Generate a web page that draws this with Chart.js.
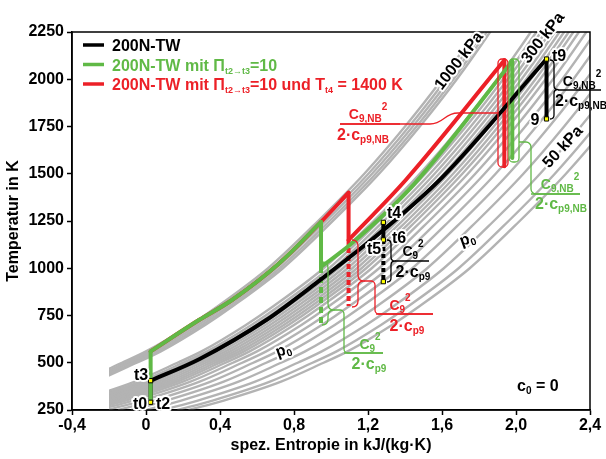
<!DOCTYPE html>
<html>
<head>
<meta charset="utf-8">
<script src="https://cdn.jsdelivr.net/npm/chart.js@4"></script>
<style>
  html, body { margin: 0; padding: 0; background: #fff; }
  #wrap { width: 606px; height: 459px; }
</style>
</head>
<body>
<div id="wrap"><canvas id="tsChart" width="606" height="459"></canvas></div>
<script>
const FONT = "'Liberation Sans', Arial, sans-serif";
const BLACK = '#000000', GREEN = '#60b946', RED = '#ec2027', GRAY = '#b3b3b3';

// axes
const xTicks = [-0.4, 0, 0.4, 0.8, 1.2, 1.6, 2.0, 2.4];
const xTickLabels = ['-0,4', '0', '0,4', '0,8', '1,2', '1,6', '2,0', '2,4'];
const yTicks = [250, 500, 750, 1000, 1250, 1500, 1750, 2000, 2250];

// gray isobars: one shape (s, T) and the s-offset of every isobar
const isobarS = [-0.83, -0.64, -0.33, -0.10, 0.03, 0.27, 0.42, 0.69, 0.96, 1.21, 1.43, 1.63, 1.81, 1.91];
const isobarT = [250, 300, 400, 500, 560, 700, 800, 1000, 1250, 1500, 1750, 2000, 2250, 2400];
const isobarShift = [-0.03, -0.008, 0.012, 0.032, 0.05,
                     0.27, 0.30, 0.325, 0.35, 0.375, 0.40, 0.425, 0.45, 0.475, 0.50, 0.53,
                     0.57, 0.62, 0.68, 0.75, 0.83, 0.92, 1.0, 1.06];

// 200N-TW (black)
const blackCompS = [0.025, 0.025], blackCompT = [291, 405];
const blackHeatS = [0.025, 0.29, 0.65, 0.935, 1.283, 1.6, 2.165];
const blackHeatT = [405, 520, 726, 933, 1202, 1480, 2107];
const blackTurbS = [1.283, 1.283], blackTurbT = [1243, 1150], blackJetT = [1150, 929];
const blackNozS = [2.165, 2.165], blackNozT = [2107, 1790];
const stationS = [0.025, 0.025, 1.283, 1.283, 1.283, 2.165, 2.165];
const stationT = [291, 405, 1243, 1150, 929, 2107, 1790];

// 200N-TW mit Pi=10 (green)
const greenCompS = [0.025, 0.025], greenCompT = [291, 560];
const greenHeatS = [0.025, 0.286, 0.465, 0.719, 0.946];
const greenHeatT = [560, 726, 832, 1025, 1245];
const greenTurbS = [0.946, 0.946], greenTurbT = [1245, 1007], greenJetT = [1007, 690];
const greenReheatS = [0.946, 1.108, 1.449, 1.98];
const greenReheatT = [1007, 1128, 1445, 2095];
const greenNozS = [1.98, 1.98], greenNozT = [2095, 1583];

// 200N-TW mit Pi=10 und Tt4 = 1400 K (red)
const redHeatS = [0.025, 0.286, 0.465, 0.719, 0.946, 1.095];
const redHeatT = [560, 726, 832, 1025, 1245, 1400];
const redTurbS = [1.095, 1.095], redTurbT = [1400, 1150], redJetT = [1150, 800];
const redReheatS = [1.095, 1.404, 1.937];
const redReheatT = [1150, 1467, 2100];
const redNozS = [1.937, 1.937], redNozT = [2100, 1540];

// legend entries: [text, size, baseline shift]
const legendRows = [
  { color: BLACK, parts: [['200N-TW', 16, 0]] },
  { color: GREEN, parts: [['200N-TW mit \u03A0', 16, 0], ['t2\u2192t3', 9, 3], ['=10', 16, 0]] },
  { color: RED, parts: [['200N-TW mit \u03A0', 16, 0], ['t2\u2192t3', 9, 3], ['=10 und T', 16, 0], ['t4', 9, 3], [' = 1400 K', 16, 0]] }
];

function pts(s, T) { return s.map((v, i) => ({ x: v, y: T[i] })); }
function seg(s, T, color, width, opts) {
  return Object.assign({
    data: pts(s, T), showLine: true, borderColor: color, borderWidth: width,
    pointRadius: 0, pointHoverRadius: 0, fill: false, tension: 0,
    borderCapStyle: 'round', borderJoinStyle: 'round'
  }, opts || {});
}
const smooth = { cubicInterpolationMode: 'monotone' };

const datasets = [];
// markers on top
datasets.push({
  data: pts(stationS, stationT), showLine: false, pointStyle: 'rect', pointRadius: 3,
  backgroundColor: '#ffff00', borderColor: '#000', borderWidth: 1, order: 0
});
// black
datasets.push(seg(blackHeatS, blackHeatT, BLACK, 4, Object.assign({ order: 1 }, smooth)));
datasets.push(seg(blackTurbS, blackTurbT, BLACK, 4, { order: 1 }));
datasets.push(seg(blackTurbS, blackJetT, BLACK, 4, { order: 1, borderDash: [4, 3], borderCapStyle: 'butt' }));
datasets.push(seg(blackNozS, blackNozT, BLACK, 4, { order: 1 }));
datasets.push(seg(blackCompS, blackCompT, BLACK, 4, { order: 5 }));
// green
datasets.push(seg(greenCompS, greenCompT, GREEN, 4, { order: 2 }));
datasets.push(seg(greenHeatS, greenHeatT, GREEN, 4, Object.assign({ order: 2 }, smooth)));
datasets.push(seg(greenTurbS, greenTurbT, GREEN, 4, { order: 2 }));
datasets.push(seg(greenTurbS, greenJetT, GREEN, 4, { order: 2, borderDash: [6, 4], borderCapStyle: 'butt' }));
datasets.push(seg(greenReheatS, greenReheatT, GREEN, 4, Object.assign({ order: 2 }, smooth)));
datasets.push(seg(greenNozS, greenNozT, GREEN, 4, { order: 2 }));
// red
datasets.push(seg(redHeatS, redHeatT, RED, 4, Object.assign({ order: 3 }, smooth)));
datasets.push(seg(redTurbS, redTurbT, RED, 4, { order: 3 }));
datasets.push(seg(redTurbS, redJetT, RED, 4, { order: 3, borderDash: [5, 3], borderCapStyle: 'butt' }));
datasets.push(seg(redReheatS, redReheatT, RED, 4, Object.assign({ order: 3 }, smooth)));
datasets.push(seg(redNozS, redNozT, RED, 4, { order: 3 }));
// gray isobars at the back
isobarShift.forEach(d => {
  datasets.push(seg(isobarS.map(s => s + d), isobarT, GRAY, 2.4,
    Object.assign({ order: 10, isobar: true, borderCapStyle: 'butt' }, smooth)));
});

function rich(ctx, parts, x, y, color, align, halo) {
  let w = 0;
  parts.forEach(p => { ctx.font = 'bold ' + p[1] + 'px ' + FONT; w += ctx.measureText(p[0]).width; });
  let cx = align === 'center' ? x - w / 2 : (align === 'right' ? x - w : x);
  ctx.textAlign = 'left';
  ctx.textBaseline = 'alphabetic';
  parts.forEach(p => {
    ctx.font = 'bold ' + p[1] + 'px ' + FONT;
    if (halo) {
      ctx.strokeStyle = '#fff'; ctx.lineWidth = 4; ctx.lineJoin = 'round';
      ctx.strokeText(p[0], cx, y + p[2]);
    }
    ctx.fillStyle = color;
    ctx.fillText(p[0], cx, y + p[2]);
    cx += ctx.measureText(p[0]).width;
  });
  return w;
}
function rotLabel(ctx, parts, cx, cy, deg, color, halo) {
  ctx.save();
  ctx.translate(cx, cy);
  ctx.rotate(deg * Math.PI / 180);
  rich(ctx, parts, 0, 6, color, 'center', halo);
  ctx.restore();
}
function brace(ctx, x, y1, y2, w, tipY) {
  const m = tipY === undefined ? (y1 + y2) / 2 : tipY, r = w / 2;
  ctx.beginPath();
  ctx.moveTo(x, y1);
  ctx.quadraticCurveTo(x + r, y1, x + r, y1 + r);
  ctx.lineTo(x + r, m - r);
  ctx.quadraticCurveTo(x + r, m, x + w, m);
  ctx.quadraticCurveTo(x + r, m, x + r, m + r);
  ctx.lineTo(x + r, y2 - r);
  ctx.quadraticCurveTo(x + r, y2, x, y2);
  ctx.stroke();
}
function roundPath(ctx, p, r) {
  ctx.beginPath();
  ctx.moveTo(p[0][0], p[0][1]);
  for (let i = 1; i < p.length - 1; i++) ctx.arcTo(p[i][0], p[i][1], p[i + 1][0], p[i + 1][1], r);
  ctx.lineTo(p[p.length - 1][0], p[p.length - 1][1]);
  ctx.stroke();
}
function roundRect(ctx, x, y, w, h, r) {
  ctx.beginPath();
  ctx.moveTo(x + r, y);
  ctx.arcTo(x + w, y, x + w, y + h, r);
  ctx.arcTo(x + w, y + h, x, y + h, r);
  ctx.arcTo(x, y + h, x, y, r);
  ctx.arcTo(x, y, x + w, y, r);
  ctx.closePath();
  ctx.stroke();
}
function fraction(ctx, color, numX, numY, x1, x2, barY, denX, denY, sub) {
  rich(ctx, [['C', 14, 0], [sub, 10, 3], ['2', 10, -9]], numX, numY, color, 'center');
  ctx.strokeStyle = color; ctx.lineWidth = 1.3;
  ctx.beginPath(); ctx.moveTo(x1, barY); ctx.lineTo(x2, barY); ctx.stroke();
  rich(ctx, [['2\u00B7c', 16, 0], ['p' + sub, 10, 3]], denX, denY, color, 'center');
}

const isobarClip = {
  id: 'isobarClip',
  beforeDatasetDraw(chart, args) {
    if (!chart.data.datasets[args.index].isobar) return;
    const a = chart.chartArea, x0 = chart.scales.x.getPixelForValue(-0.2);
    chart.ctx.save();
    chart.ctx.beginPath();
    chart.ctx.rect(x0, a.top, a.right - x0, a.bottom - a.top);
    chart.ctx.clip();
  },
  afterDatasetDraw(chart, args) {
    if (chart.data.datasets[args.index].isobar) chart.ctx.restore();
  }
};

const annotations = {
  id: 'annotations',
  afterDatasetsDraw(chart) {
    const ctx = chart.ctx, a = chart.chartArea;
    ctx.save();
    ctx.strokeStyle = '#000'; ctx.lineWidth = 1.5;
    ctx.strokeRect(a.left, a.top, a.right - a.left, a.bottom - a.top);

    // legend
    legendRows.forEach((row, i) => {
      const y = 45 + i * 19.5;
      ctx.strokeStyle = row.color; ctx.lineWidth = 3.5;
      ctx.beginPath(); ctx.moveTo(83, y); ctx.lineTo(104, y); ctx.stroke();
      rich(ctx, row.parts, 112, y + 6, row.color, 'left');
    });

    // isobar labels
    rotLabel(ctx, [['1000 kPa', 16, 0]], 458, 60, -52, BLACK, true);
    rotLabel(ctx, [['300 kPa', 16, 0]], 542, 37, -52, BLACK, true);
    rotLabel(ctx, [['50 kPa', 16, 0]], 562, 146, -47, BLACK, true);
    rotLabel(ctx, [['p', 16, 0], ['0', 10, 3]], 283, 349, -20, BLACK, true);
    rotLabel(ctx, [['p', 16, 0], ['0', 10, 3]], 467, 238, -20, BLACK, true);

    // station labels
    rich(ctx, [['t3', 16, 0]], 141, 380, BLACK, 'center', true);
    rich(ctx, [['t0', 16, 0]], 140, 409, BLACK, 'center', true);
    rich(ctx, [['t2', 16, 0]], 163, 409, BLACK, 'center', true);
    rich(ctx, [['t4', 16, 0]], 394, 218, BLACK, 'center', true);
    rich(ctx, [['t5', 16, 0]], 374, 254, BLACK, 'center', true);
    rich(ctx, [['t6', 16, 0]], 399, 243, BLACK, 'center', true);
    rich(ctx, [['t9', 16, 0]], 559, 61, BLACK, 'center', true);
    rich(ctx, [['9', 16, 0]], 535, 125, BLACK, 'center', true);
    rich(ctx, [['c', 16, 0], ['0', 10, 3], [' = 0', 16, 0]], 517, 391, BLACK, 'left');

    // kinetic energy brackets
    ctx.lineWidth = 1.3;
    ctx.strokeStyle = BLACK;
    brace(ctx, 387, 240, 282, 8);
    fraction(ctx, BLACK, 413, 256, 395, 429, 261, 413, 277, '9');
    brace(ctx, 550, 60, 119, 8);
    fraction(ctx, BLACK, 582, 86, 558, 601, 90, 581, 106, '9,NB');

    ctx.strokeStyle = RED; ctx.lineWidth = 1.3;
    brace(ctx, 352, 240, 307, 12, 281);
    roundPath(ctx, [[364, 281], [375, 281], [375, 314], [433, 314]], 4);
    fraction(ctx, RED, 400, 310, 376, 433, 314, 407, 331, '9');

    ctx.strokeStyle = GREEN; ctx.lineWidth = 1.3;
    brace(ctx, 322, 262, 325, 12, 310);
    roundPath(ctx, [[334, 310], [344, 310], [344, 353], [383, 353]], 4);
    fraction(ctx, GREEN, 370, 349, 344, 383, 353, 369, 369, '9');

    ctx.strokeStyle = RED; ctx.lineWidth = 1.3;
    roundRect(ctx, 498, 59, 10, 108, 4);
    ctx.beginPath();
    ctx.moveTo(498, 113); ctx.lineTo(458, 113);
    ctx.bezierCurveTo(444, 113, 444, 124, 430, 124);
    ctx.lineTo(340, 124); ctx.stroke();
    fraction(ctx, RED, 368, 119, 340, 400, 124, 363, 140, '9,NB');

    ctx.strokeStyle = GREEN; ctx.lineWidth = 1.3;
    roundRect(ctx, 509, 59, 10, 103, 4);
    roundPath(ctx, [[519, 142], [531, 142], [531, 194], [580, 194]], 5);
    fraction(ctx, GREEN, 560, 189, 531, 580, 194, 561, 209, '9,NB');
    ctx.restore();
  }
};

const tickFont = { family: FONT, size: 16, weight: 'bold' };
new Chart(document.getElementById('tsChart').getContext('2d'), {
  type: 'scatter',
  data: { datasets: datasets },
  options: {
    responsive: false,
    animation: false,
    layout: { padding: { top: 32, right: 16, left: 0, bottom: 0 } },
    plugins: { legend: { display: false }, tooltip: { enabled: false } },
    scales: {
      x: {
        type: 'linear', min: -0.4, max: 2.4,
        afterBuildTicks: sc => { sc.ticks = xTicks.map(v => ({ value: v })); },
        afterFit: sc => { sc.height = 49; },
        ticks: { callback: (v, i) => xTickLabels[i], color: '#000', font: tickFont, padding: 1, maxRotation: 0, autoSkip: false },
        grid: { drawOnChartArea: false, drawTicks: true, tickLength: 5, tickColor: '#000', tickWidth: 1.5 },
        border: { display: true, color: '#000', width: 1.5 },
        title: { display: true, text: 'spez. Entropie in kJ/(kg\u00B7K)', color: '#000', font: tickFont, padding: { top: 0, bottom: 4 } }
      },
      y: {
        type: 'linear', min: 250, max: 2250,
        afterBuildTicks: sc => { sc.ticks = yTicks.map(v => ({ value: v })); },
        afterFit: sc => { sc.width = 72; },
        ticks: { callback: v => String(v), color: '#000', font: tickFont, padding: 3, autoSkip: false },
        grid: { drawOnChartArea: false, drawTicks: true, tickLength: 5, tickColor: '#000', tickWidth: 1.5 },
        border: { display: true, color: '#000', width: 1.5 },
        title: { display: true, text: 'Temperatur in K', color: '#000', font: tickFont, padding: { top: 4, bottom: 0 } }
      }
    }
  },
  plugins: [isobarClip, annotations]
});
</script>
</body>
</html>
